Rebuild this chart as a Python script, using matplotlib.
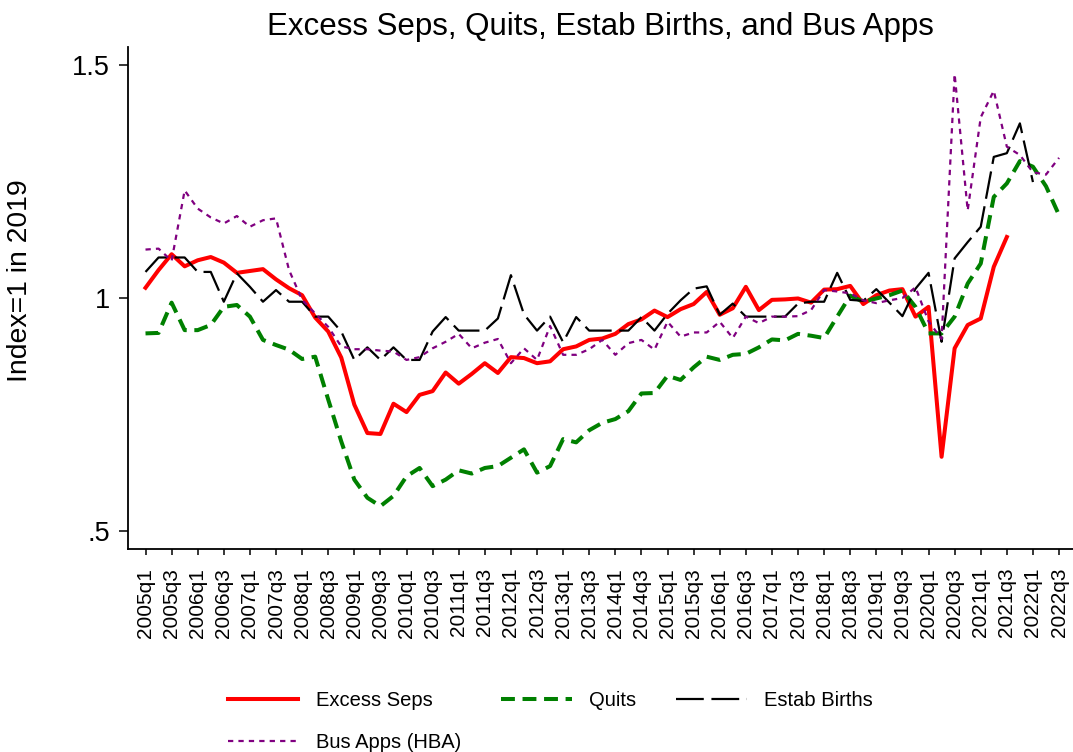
import matplotlib
matplotlib.use("Agg")
import matplotlib.pyplot as plt

plt.rcParams['font.family'] = ['Liberation Sans', 'DejaVu Sans']
plt.rcParams['lines.scale_dashes'] = False

# quarters 2005q1 .. 2022q3
quarters = [f"{y}q{q}" for y in range(2005, 2023) for q in range(1, 5)][:71]
tick_labels = quarters[::2]  # 2005q1, 2005q3, ..., 2022q3

excess_seps = [1.022, 1.06, 1.094, 1.068, 1.081, 1.088, 1.076, 1.054, 1.058, 1.062,
               1.04, 1.021, 1.006, 0.958, 0.928, 0.872, 0.771, 0.71, 0.708, 0.773,
               0.755, 0.792, 0.8, 0.84, 0.816, 0.837, 0.86, 0.839, 0.873, 0.871,
               0.86, 0.864, 0.89, 0.896, 0.91, 0.913, 0.923, 0.944, 0.954, 0.973,
               0.959, 0.976, 0.987, 1.013, 0.964, 0.978, 1.024, 0.974, 0.996, 0.997,
               0.999, 0.99, 1.018, 1.019, 1.026, 0.987, 1.006, 1.016, 1.019, 0.96,
               0.981, 0.659, 0.892, 0.942, 0.956, 1.067, 1.131]

quits = [0.924, 0.925, 0.99, 0.931, 0.931, 0.942, 0.981, 0.985, 0.96, 0.91,
         0.899, 0.889, 0.869, 0.874, 0.782, 0.692, 0.61, 0.571, 0.553, 0.575,
         0.617, 0.635, 0.596, 0.61, 0.63, 0.623, 0.635, 0.639, 0.657, 0.675,
         0.625, 0.639, 0.697, 0.69, 0.716, 0.732, 0.74, 0.757, 0.795, 0.796,
         0.833, 0.824, 0.851, 0.874, 0.867, 0.878, 0.88, 0.894, 0.911, 0.909,
         0.923, 0.919, 0.914, 0.96, 1.005, 0.992, 0.999, 1.006, 1.016, 0.981,
         0.924, 0.924, 0.96, 1.031, 1.074, 1.217, 1.246, 1.294, 1.282, 1.24,
         1.178]

estab_births = [1.056, 1.087, 1.087, 1.087, 1.056, 1.056, 0.992, 1.053, 1.024, 0.992,
                1.017, 0.992, 0.992, 0.96, 0.96, 0.928, 0.867, 0.894, 0.867, 0.894,
                0.867, 0.867, 0.928, 0.959, 0.93, 0.93, 0.93, 0.956, 1.049, 0.965,
                0.93, 0.96, 0.905, 0.959, 0.93, 0.93, 0.93, 0.93, 0.959, 0.93,
                0.966, 0.995, 1.02, 1.025, 0.964, 0.988, 0.96, 0.96, 0.96, 0.96,
                0.988, 0.992, 0.992, 1.054, 0.996, 0.994, 1.019, 0.99, 0.961, 1.02,
                1.054, 0.906, 1.085, 1.12, 1.153, 1.303, 1.311, 1.375, 1.249]

bus_apps = [1.104, 1.106, 1.08, 1.231, 1.192, 1.173, 1.16, 1.176, 1.153, 1.167,
            1.171, 1.06, 0.996, 0.967, 0.938, 0.896, 0.89, 0.89, 0.887, 0.885,
            0.867, 0.873, 0.892, 0.906, 0.923, 0.892, 0.904, 0.912, 0.86, 0.892,
            0.867, 0.94, 0.878, 0.878, 0.89, 0.91, 0.878, 0.903, 0.91, 0.889,
            0.949, 0.917, 0.926, 0.926, 0.949, 0.914, 0.96, 0.946, 0.96, 0.96,
            0.961, 0.974, 1.017, 1.014, 1.01, 0.995, 0.989, 0.995, 1.0, 1.023,
            0.95, 0.912, 1.481, 1.188, 1.388, 1.445, 1.325, 1.307, 1.27, 1.265,
            1.301]

ytick_vals = [0.5, 1.0, 1.5]
ytick_labels = ['.5', '1', '1.5']

W, H = 1073, 752
fig = plt.figure(figsize=(W / 100, H / 100), dpi=100)
ax = fig.add_axes([127.5 / W, (H - 549) / H, (W - 127.5) / W, (549 - 47) / H])

ax.plot(range(len(excess_seps)), excess_seps, color='#ff0000', lw=2.9,
        solid_joinstyle='round', label='Excess Seps')
ax.plot(range(len(quits)), quits, color='#008000', lw=2.9,
        dashes=(10, 5.5), dash_capstyle='butt', label='Quits')
ax.plot(range(len(estab_births)), estab_births, color='black', lw=1.6,
        dashes=(20, 5.5), label='Estab Births')
ax.plot(range(len(bus_apps)), bus_apps, color='#800080', lw=1.6,
        dashes=(3.8, 3.7), label='Bus Apps (HBA)')

ax.set_xlim(-1.38, 71.07)
ax.set_ylim(0.461, 1.539)

ax.set_xticks(range(0, len(quarters), 2))
ax.set_xticklabels(tick_labels, rotation=90, fontsize=15)
ax.set_yticks(ytick_vals)
ax.set_yticklabels(ytick_labels, fontsize=19.5)
ax.tick_params(axis='x', length=4.5, width=1.1, pad=9)
ax.tick_params(axis='y', length=6.8, width=1.1, pad=6)

for s in ['top', 'right']:
    ax.spines[s].set_visible(False)
for s in ['left', 'bottom']:
    ax.spines[s].set_linewidth(1.3)

ax.set_ylabel('Index=1 in 2019', fontsize=20.4)
ax.yaxis.set_label_coords(-0.1, 0.534)

ax.set_title('Excess Seps, Quits, Estab Births, and Bus Apps', fontsize=22.5, pad=8.6)

h = {l.get_label(): l for l in ax.get_lines()}
order = ['Excess Seps', 'Bus Apps (HBA)', 'Quits', 'Estab Births']
fig.legend([h[k] for k in order], order, ncol=3, loc='upper left',
           bbox_to_anchor=(228 / W, (H - 691) / H), frameon=False,
           fontsize=14.5, handlelength=3.5, handletextpad=0.85,
           columnspacing=2.0, labelspacing=1.15, borderpad=0, borderaxespad=0)

fig.savefig('out.png', dpi=100)
